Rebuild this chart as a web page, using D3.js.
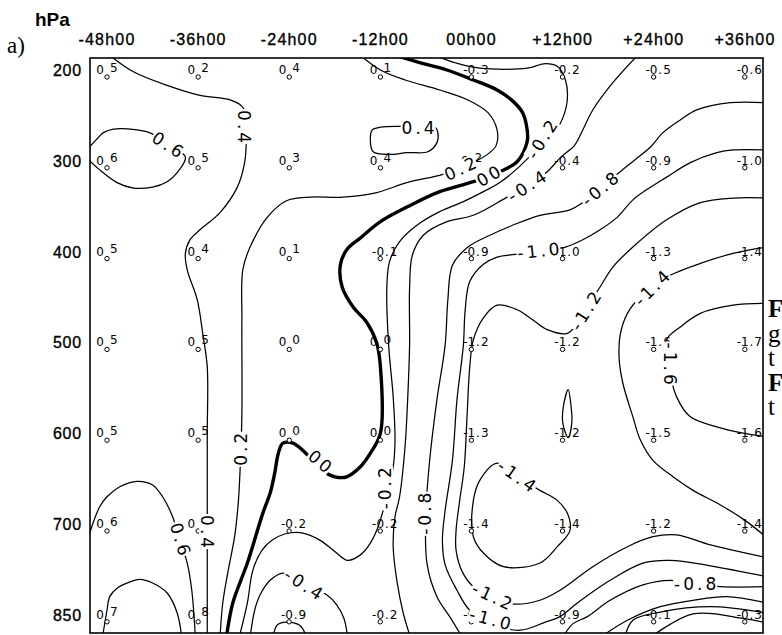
<!DOCTYPE html>
<html>
<head>
<meta charset="utf-8">
<script src="https://cdn.jsdelivr.net/npm/d3@7"></script>
<style>
  body { margin: 0; background: #fff; }
  svg { display: block; }
</style>
</head>
<body>
<svg id="chart" width="782" height="635"></svg>
<script>
// Time axis (hours relative to 00h00) and pressure levels
const timeLabels = ["-48h00", "-36h00", "-24h00", "-12h00", "00h00", "+12h00", "+24h00", "+36h00"];
const pressureLabels = ["200", "300", "400", "500", "600", "700", "850"];

// Grid-point values, one array per pressure level
const anom200 = [0.5, 0.2, 0.4, 0.1, -0.3, -0.2, -0.5, -0.6];
const anom300 = [0.6, 0.5, 0.3, 0.4, 0.2, -0.4, -0.9, -1.0];
const anom400 = [0.5, 0.4, 0.1, -0.1, -0.9, -1.0, -1.3, -1.4];
const anom500 = [0.5, 0.5, 0.0, 0.0, -1.2, -1.2, -1.6, -1.7];
const anom600 = [0.5, 0.5, 0.0, 0.0, -1.3, -1.2, -1.5, -1.6];
const anom700 = [0.6, 0.6, -0.2, -0.2, -1.4, -1.4, -1.2, -1.4];
const anom850 = [0.7, 0.8, -0.9, -0.2, -0.9, -0.9, -0.1, -0.3];
const anomaly = [anom200, anom300, anom400, anom500, anom600, anom700, anom850];

// Isolines traced in grid coordinates [time index, level index]
const isolines = [
  { v: 0.4, pts: [[0.03,-0.16],[0.29,0.02],[0.66,0.17],[1.02,0.28],[1.35,0.33],[1.48,0.40],[1.54,0.53],[1.53,0.77],[1.51,1.02],[1.43,1.29],[1.24,1.57],[1.02,1.76],[0.91,1.87],[0.86,2.02],[0.88,2.20],[0.99,2.53],[1.05,2.90],[1.10,3.27],[1.10,4.00],[1.10,4.74],[1.10,5.40],[1.10,6.25]] },
  { v: 0.6, pts: [[-0.22,0.88],[-0.12,0.77],[-0.04,0.69],[0.07,0.65],[0.33,0.66],[0.49,0.70],[0.58,0.76],[0.71,0.84],[0.86,0.96],[0.77,1.13],[0.66,1.23],[0.50,1.29],[0.29,1.30],[0.11,1.24],[-0.08,1.10],[-0.22,0.97]] },
  { v: 0.6, pts: [[-0.22,5.20],[-0.15,4.98],[-0.08,4.81],[0.00,4.70],[0.14,4.59],[0.33,4.53],[0.50,4.57],[0.61,4.70],[0.72,4.92],[0.80,5.18],[0.88,5.43],[0.93,5.73],[0.97,6.25]] },
  { v: 0.8, pts: [[-0.05,6.25],[0.00,5.95],[0.03,5.80],[0.12,5.70],[0.22,5.65],[0.36,5.61],[0.50,5.65],[0.66,5.76],[0.77,5.98],[0.82,6.25]] },
  { v: 0.2, pts: [[2.78,-0.16],[3.00,0.00],[3.27,0.11],[3.65,0.22],[3.96,0.33],[4.18,0.47],[4.28,0.66],[4.27,0.83],[4.20,0.91],[4.04,1.01],[3.85,1.10],[3.65,1.16],[3.29,1.24],[2.96,1.35],[2.59,1.40],[2.23,1.40],[1.97,1.44],[1.76,1.62],[1.57,1.95],[1.49,2.20],[1.48,2.75],[1.48,3.78],[1.46,4.41],[1.44,4.77],[1.40,5.14],[1.33,5.51],[1.27,5.87],[1.24,6.25]] },
  { v: 0.4, closed: true, pts: [[3.21,0.62],[3.00,0.63],[2.91,0.66],[2.89,0.79],[2.92,0.90],[3.10,0.93],[3.29,0.91],[3.52,0.90],[3.62,0.80],[3.63,0.69],[3.60,0.63]] },
  { v: 0.0, pts: [[3.17,-0.16],[3.47,-0.07],[3.73,0.00],[4.02,0.11],[4.28,0.22],[4.45,0.34],[4.56,0.47],[4.61,0.66],[4.61,0.79],[4.50,1.01],[4.31,1.12],[4.02,1.23],[3.65,1.34],[3.29,1.51],[3.00,1.67],[2.78,1.85],[2.63,1.98],[2.56,2.15],[2.58,2.39],[2.70,2.61],[2.85,2.78],[2.96,3.01],[3.00,3.27],[3.00,4.00],[2.89,4.22],[2.78,4.37],[2.63,4.48],[2.50,4.48],[2.36,4.41],[2.17,4.21],[2.04,4.11],[1.93,4.11],[1.88,4.22],[1.84,4.44],[1.79,4.66],[1.71,4.88],[1.54,5.43],[1.38,5.87],[1.31,6.25]] },
  { v: -0.2, pts: [[3.60,-0.16],[3.82,-0.08],[4.09,-0.02],[4.61,-0.02],[4.81,-0.07],[4.94,-0.04],[5.03,0.11],[5.05,0.33],[5.00,0.53],[4.94,0.64],[4.78,0.77],[4.62,0.97],[4.31,1.24],[4.13,1.34],[3.91,1.45],[3.65,1.56],[3.40,1.71],[3.21,1.89],[3.10,2.11],[3.07,2.40],[3.09,3.03],[3.14,3.60],[3.16,4.07],[3.14,4.37],[3.08,4.63],[3.03,4.85],[2.96,5.07],[2.89,5.21],[2.78,5.34],[2.64,5.40],[2.52,5.32],[2.34,5.18],[2.15,5.10],[1.95,5.11],[1.81,5.18],[1.70,5.29],[1.60,5.51],[1.54,5.87],[1.45,6.25]] },
  { v: -0.4, pts: [[5.82,-0.16],[5.55,0.14],[5.33,0.44],[5.22,0.66],[5.13,0.83],[4.98,0.96],[4.83,1.12],[4.62,1.27],[4.39,1.40],[4.02,1.60],[3.73,1.67],[3.47,1.82],[3.35,2.04],[3.32,2.40],[3.32,3.03],[3.30,3.60],[3.27,4.15],[3.21,4.70],[3.16,4.92],[3.14,5.25],[3.18,5.62],[3.25,5.98],[3.33,6.25]] },
  { v: -0.8, pts: [[7.24,0.36],[6.84,0.36],[6.47,0.44],[6.29,0.55],[6.10,0.69],[5.96,0.85],[5.79,0.99],[5.63,1.12],[5.42,1.30],[5.22,1.46],[5.08,1.54],[4.75,1.60],[4.45,1.71],[4.20,1.82],[3.96,1.95],[3.79,2.15],[3.74,2.53],[3.71,3.03],[3.62,3.63],[3.54,4.30],[3.50,4.85],[3.51,5.43],[3.62,5.80],[3.76,6.02],[3.90,6.25]] },
  { v: -1.0, pts: [[7.24,0.88],[6.87,0.88],[6.69,0.91],[6.40,1.02],[6.14,1.18],[5.92,1.32],[5.77,1.43],[5.60,1.62],[5.41,1.76],[5.22,1.87],[5.03,1.95],[4.75,1.99],[4.48,2.03],[4.28,2.06],[4.13,2.14],[3.98,2.33],[3.93,2.64],[3.91,3.03],[3.84,3.63],[3.79,4.30],[3.71,4.85],[3.68,5.18],[3.71,5.45],[3.84,5.73],[3.98,5.95],[4.22,6.10],[4.53,6.17],[4.81,6.08],[4.97,6.02],[5.16,5.87],[5.52,5.62],[5.88,5.43],[6.18,5.40],[6.62,5.46],[7.24,5.58]] },
  { v: -1.2, pts: [[7.24,1.41],[6.87,1.41],[6.51,1.46],[6.14,1.65],[5.77,1.95],[5.55,2.17],[5.41,2.39],[5.32,2.53],[5.19,2.75],[5.05,2.90],[4.83,2.86],[4.67,2.75],[4.50,2.64],[4.28,2.59],[4.13,2.73],[4.02,2.97],[3.98,3.27],[3.95,3.82],[3.92,4.37],[3.87,4.74],[3.83,5.07],[3.83,5.29],[3.90,5.53],[4.02,5.69],[4.24,5.80],[4.45,5.88],[4.75,5.84],[4.97,5.73],[5.33,5.47],[5.71,5.25],[5.99,5.14],[6.25,5.12],[6.62,5.23],[7.24,5.37]] },
  { v: -1.4, pts: [[7.24,1.95],[6.87,2.02],[6.51,2.13],[6.14,2.28],[5.99,2.39],[5.85,2.50],[5.71,2.68],[5.63,2.92],[5.62,3.19],[5.66,3.45],[5.77,3.82],[5.85,4.07],[5.99,4.30],[6.21,4.48],[6.43,4.63],[6.73,4.79],[7.00,4.96],[7.24,5.15]] },
  { v: -1.6, pts: [[7.24,2.57],[6.87,2.59],[6.51,2.68],[6.29,2.83],[6.14,2.97],[6.16,3.25],[6.25,3.60],[6.40,3.82],[6.69,3.93],[6.98,4.00],[7.24,4.04]] },
  { v: -1.4, closed: true, pts: [[4.28,4.33],[4.09,4.52],[4.02,4.74],[4.02,5.14],[4.13,5.32],[4.35,5.47],[4.75,5.43],[4.94,5.25],[5.08,5.07],[5.05,4.88],[4.94,4.74],[4.75,4.63],[4.51,4.48]] },
  { v: -1.2, closed: true, pts: [[5.06,3.52],[5.01,3.69],[5.00,3.88],[5.06,4.05],[5.10,3.88],[5.09,3.69]] },
  { v: -0.4, pts: [[1.57,6.25],[1.62,5.95],[1.68,5.78],[1.79,5.62],[1.93,5.54],[2.17,5.67],[2.41,5.78],[2.52,5.89],[2.60,6.04],[2.64,6.25]] },
  { v: -0.8, pts: [[1.82,6.25],[1.87,6.11],[1.97,6.08],[2.12,6.12],[2.19,6.25]] },
  { v: -0.8, pts: [[5.00,6.25],[5.11,6.10],[5.27,6.02],[5.52,5.84],[5.88,5.67],[6.18,5.62],[6.47,5.66],[6.73,5.69],[7.24,5.69]] },
  { v: -0.4, pts: [[5.41,6.25],[5.71,6.06],[6.07,5.91],[6.43,5.84],[6.80,5.80],[7.24,5.87]] },
  { v: -0.2, pts: [[5.68,6.25],[5.77,6.06],[6.07,5.97],[6.62,5.91],[7.24,5.98]] },
  { v: -0.2, pts: [[5.96,6.25],[6.43,5.99],[6.98,6.04],[7.24,6.09]] }
];

// Inline isoline labels: text, grid position, rotation in degrees
const isoLabels = [
  { t: "0.4",  c: 1.50, r: 0.64, a: 90 },
  { t: "0.6",  c: 0.68, r: 0.83, a: 33 },
  { t: "0.4",  c: 3.43, r: 0.64, a: 0 },
  { t: "0.2",  c: 3.89, r: 1.08, a: -25 },
  { t: "00",   c: 4.20, r: 1.16, a: -30 },
  { t: "-0.2", c: 4.78, r: 0.75, a: -58 },
  { t: "-0.4", c: 4.62, r: 1.27, a: -33 },
  { t: "-0.8", c: 5.42, r: 1.30, a: -40 },
  { t: "-1.0", c: 4.75, r: 1.99, a: -6 },
  { t: "-1.2", c: 5.26, r: 2.64, a: -58 },
  { t: "-1.4", c: 5.99, r: 2.39, a: -45 },
  { t: "-1.6", c: 6.18, r: 3.25, a: 90 },
  { t: "0.2",  c: 1.47, r: 4.16, a: -90 },
  { t: "00",   c: 2.35, r: 4.32, a: 40 },
  { t: "-0.2", c: 3.05, r: 4.59, a: -90 },
  { t: "0.4",  c: 1.10, r: 5.10, a: 90 },
  { t: "0.6",  c: 0.81, r: 5.18, a: 73 },
  { t: "-0.4", c: 2.17, r: 5.67, a: 33 },
  { t: "-0.8", c: 3.49, r: 4.87, a: -90 },
  { t: "-1.4", c: 4.51, r: 4.48, a: 35 },
  { t: "-1.2", c: 4.24, r: 5.80, a: 25 },
  { t: "-1.0", c: 4.22, r: 6.05, a: 15 },
  { t: "-0.8", c: 6.47, r: 5.66, a: 0 }
];

// Fragment of the figure caption that runs off the right edge of the page
const captionBits = [
  { t: "F", bold: true },
  { t: "g", bold: false },
  { t: "t", bold: false },
  { t: "F", bold: true },
  { t: "t", bold: false }
];

const W = 782, H = 635;
const frame = { left: 90, right: 763, top: 58, bottom: 633 };

const x = d3.scaleLinear().domain([0, 7]).range([107, 745]);
const y = d3.scaleLinear().domain([0, 6]).range([70, 614.8]);

const svg = d3.select("#chart");
svg.append("rect").attr("width", W).attr("height", H).attr("fill", "#fff");

svg.append("defs").append("clipPath").attr("id", "plotArea")
  .append("rect")
  .attr("x", frame.left).attr("y", frame.top)
  .attr("width", frame.right - frame.left).attr("height", frame.bottom - frame.top);

const plot = svg.append("g").attr("clip-path", "url(#plotArea)");

const openLine = d3.line().x(d => x(d[0])).y(d => y(d[1])).curve(d3.curveCatmullRom.alpha(0.5));
const closedLine = d3.line().x(d => x(d[0])).y(d => y(d[1])).curve(d3.curveCatmullRomClosed.alpha(0.5));

plot.selectAll("path.iso")
  .data(isolines)
  .join("path")
  .attr("class", "iso")
  .attr("d", d => (d.closed ? closedLine : openLine)(d.pts))
  .attr("fill", "none")
  .attr("stroke", "#000")
  .attr("stroke-width", d => d.v === 0 ? 3.4 : 1.25)
  .attr("stroke-linejoin", "round")
  .attr("stroke-linecap", "round");

// Grid-point values with the station circle standing in for the decimal point
const cells = [];
anomaly.forEach((row, i) => row.forEach((v, j) => cells.push({ i, j, v })));
const cellG = plot.selectAll("g.cell").data(cells).join("g")
  .attr("class", "cell")
  .attr("transform", d => `translate(${x(d.j)},${y(d.i)})`)
  .style("font-family", "'DejaVu Sans', sans-serif")
  .style("font-size", "12px");

cellG.each(function (d) {
  const g = d3.select(this);
  const s = Math.abs(d.v).toFixed(1).split(".");
  if (d.v < 0) {
    g.append("text").attr("x", 3.6).attr("y", 4).attr("text-anchor", "end").text("-" + s[0]);
    g.append("circle").attr("cx", -0.2).attr("cy", 7).attr("r", 2.2)
      .attr("fill", "#fff").attr("stroke", "#000").attr("stroke-width", 1);
    g.append("text").attr("x", 4.5).attr("y", 4).attr("text-anchor", "start")
      .style("letter-spacing", "1px").text("." + s[1]);
  } else {
    g.append("text").attr("x", -3).attr("y", 4).attr("text-anchor", "end").text(s[0]);
    g.append("circle").attr("cx", 0).attr("cy", 7).attr("r", 2.2)
      .attr("fill", "#fff").attr("stroke", "#000").attr("stroke-width", 1);
    g.append("text").attr("x", 3).attr("y", 1.5).attr("text-anchor", "start").text(s[1]);
  }
});

// Isoline labels: a white box under each label breaks the line it sits on
const labelG = plot.selectAll("g.isolabel")
  .data(isoLabels)
  .join("g")
  .attr("class", "isolabel")
  .attr("transform", d => `translate(${x(d.c)},${y(d.r)}) rotate(${d.a})`);

const labelBox = labelG.append("rect").attr("fill", "#fff");
const labelText = labelG.append("text")
  .attr("text-anchor", "middle")
  .attr("dy", "0.36em")
  .style("font-family", "'DejaVu Sans', sans-serif")
  .style("font-size", "17px")
  .style("letter-spacing", "3px")
  .attr("fill", "#000")
  .text(d => d.t);

labelG.each(function () {
  const g = d3.select(this);
  const b = g.select("text").node().getBBox();
  g.select("rect")
    .attr("x", b.x - 1)
    .attr("y", b.y + 2)
    .attr("width", b.width - 1)
    .attr("height", b.height - 4);
});

// Frame
svg.append("rect")
  .attr("x", frame.left).attr("y", frame.top)
  .attr("width", frame.right - frame.left).attr("height", frame.bottom - frame.top)
  .attr("fill", "none").attr("stroke", "#000").attr("stroke-width", 1.6);

// Time labels along the top
svg.selectAll("text.time")
  .data(timeLabels)
  .join("text")
  .attr("class", "time")
  .attr("x", (d, j) => x(j))
  .attr("y", 45)
  .attr("text-anchor", "middle")
  .style("font-family", "'Liberation Sans', Arial, sans-serif")
  .style("font-size", "16px")
  .style("letter-spacing", "1.2px")
  .attr("stroke", "#000").attr("stroke-width", 0.35)
  .text(d => d);

// Pressure labels on the left
svg.selectAll("text.level")
  .data(pressureLabels)
  .join("text")
  .attr("class", "level")
  .attr("x", 82)
  .attr("y", (d, i) => y(i) + 6)
  .attr("text-anchor", "end")
  .style("font-family", "'Liberation Sans', Arial, sans-serif")
  .style("font-size", "16px")
  .style("letter-spacing", "0.8px")
  .attr("stroke", "#000").attr("stroke-width", 0.35)
  .text(d => d);

svg.append("text")
  .attr("x", 35).attr("y", 26)
  .style("font-family", "'Liberation Sans', Arial, sans-serif")
  .style("font-size", "19px")
  .style("font-weight", "bold")
  .text("hPa");

svg.append("text")
  .attr("x", 7).attr("y", 53)
  .style("font-family", "'Liberation Serif', 'Times New Roman', serif")
  .style("font-size", "23px")
  .text("a)");

svg.selectAll("text.caption")
  .data(captionBits)
  .join("text")
  .attr("class", "caption")
  .attr("x", 768)
  .attr("y", (d, k) => 317 + k * 24.5)
  .style("font-family", "'Liberation Serif', 'Times New Roman', serif")
  .style("font-size", "25px")
  .style("font-weight", d => d.bold ? "bold" : "normal")
  .text(d => d.t);
</script>
</body>
</html>
